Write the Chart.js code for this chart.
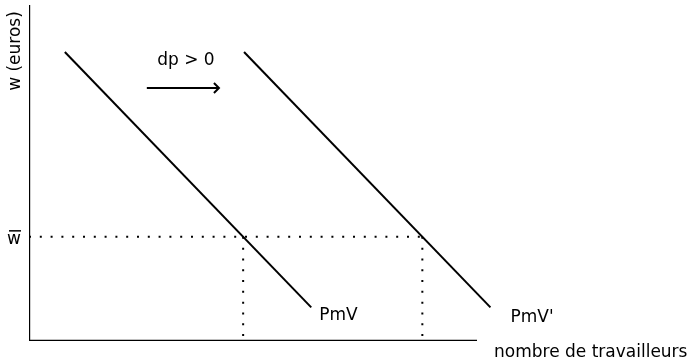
<!DOCTYPE html>
<html>
<head>
<meta charset="utf-8">
<script src="https://cdn.jsdelivr.net/npm/chart.js@4"></script>
<style>
  html, body { margin: 0; padding: 0; background: #fff; }
  #wrap { width: 695px; height: 364px; position: relative; }
</style>
</head>
<body>
<div id="wrap"><canvas id="chart"></canvas></div>
<script>
// ===== Données (unités du graphique : x = travailleurs 0..100, y = salaire 0..100) =====
const pmvX = [8, 63];          // PmV
const pmvY = [86, 10];
const pmv2X = [48, 103];       // PmV' (après dp > 0)
const pmv2Y = [86, 10];
const wBar = 31;               // salaire fixé w̄
const emploiX = [47.8, 87.8];  // emploi correspondant sur PmV et PmV'
const flecheX = [26.3, 42.4];  // flèche du déplacement
const flecheY = 75.3;
const axeMaxX = 100;
const axeMaxY = 100;

const pts = (xs, ys) => xs.map((x, i) => ({ x, y: ys[i] }));

// Dessine les textes et la pointe de flèche
const annotations = {
    id: 'annotations',
    afterDatasetsDraw(chart) {
        const { ctx, scales: { x, y } } = chart;
        ctx.save();
        ctx.fillStyle = '#000';
        ctx.strokeStyle = '#000';
        ctx.font = '17px "DejaVu Sans"';
        ctx.textBaseline = 'alphabetic';

        // pointe de flèche
        const ax = x.getPixelForValue(flecheX[1]);
        const ay = y.getPixelForValue(flecheY);
        ctx.lineWidth = 2;
        ctx.beginPath();
        ctx.moveTo(ax - 5, ay - 5);
        ctx.lineTo(ax, ay);
        ctx.lineTo(ax - 5, ay + 5);
        ctx.stroke();

        ctx.textAlign = 'center';
        ctx.fillText('dp > 0', (x.getPixelForValue(flecheX[0]) + ax) / 2 + 3, ay - 23);

        ctx.textAlign = 'left';
        ctx.fillText('PmV', x.getPixelForValue(pmvX[1]) + 8, y.getPixelForValue(pmvY[1]) + 13);
        ctx.fillText("PmV'", x.getPixelForValue(pmv2X[1]) + 20, y.getPixelForValue(pmv2Y[1]) + 15);
        ctx.fillText('nombre de travailleurs', 494, 357);

        // w̄
        ctx.fillText('w', 7, y.getPixelForValue(wBar) + 7);
        ctx.lineWidth = 1.5;
        ctx.beginPath();
        ctx.moveTo(9, y.getPixelForValue(wBar) - 6);
        ctx.lineTo(21, y.getPixelForValue(wBar) - 6);
        ctx.stroke();

        // w (euros), vertical
        ctx.translate(20, 51);
        ctx.rotate(-Math.PI / 2);
        ctx.textAlign = 'center';
        ctx.fillText('w (euros)', 0, 0);
        ctx.restore();
    }
};

const lineStyle = { borderColor: '#000', borderWidth: 2, pointRadius: 0, fill: false, tension: 0 };
const dotStyle = { borderColor: '#000', borderWidth: 2, pointRadius: 0, fill: false, borderDash: [2, 8.8] };

new Chart(document.getElementById('chart'), {
    type: 'line',
    data: {
        datasets: [
            { label: 'axes', data: [{ x: 0, y: axeMaxY }, { x: 0, y: 0 }, { x: axeMaxX, y: 0 }], ...lineStyle, borderWidth: 2.4 },
            { label: 'PmV', data: pts(pmvX, pmvY), ...lineStyle },
            { label: "PmV'", data: pts(pmv2X, pmv2Y), ...lineStyle },
            { label: 'w̄', data: [{ x: 0, y: wBar }, { x: emploiX[1], y: wBar }], ...dotStyle },
            { label: 'L1', data: [{ x: emploiX[0], y: wBar }, { x: emploiX[0], y: 0 }], ...dotStyle },
            { label: 'L2', data: [{ x: emploiX[1], y: wBar }, { x: emploiX[1], y: 0 }], ...dotStyle },
            { label: 'flèche', data: [{ x: flecheX[0], y: flecheY }, { x: flecheX[1], y: flecheY }], ...lineStyle }
        ]
    },
    options: {
        responsive: true,
        maintainAspectRatio: false,
        animation: false,
        layout: { padding: { left: 29, right: 38.8, top: 5, bottom: 23 } },
        plugins: { legend: { display: false }, tooltip: { enabled: false } },
        scales: {
            x: { type: 'linear', display: false, min: 0, max: 140 },
            y: { type: 'linear', display: false, min: 0, max: 100 }
        }
    },
    plugins: [annotations]
});
</script>
</body>
</html>
